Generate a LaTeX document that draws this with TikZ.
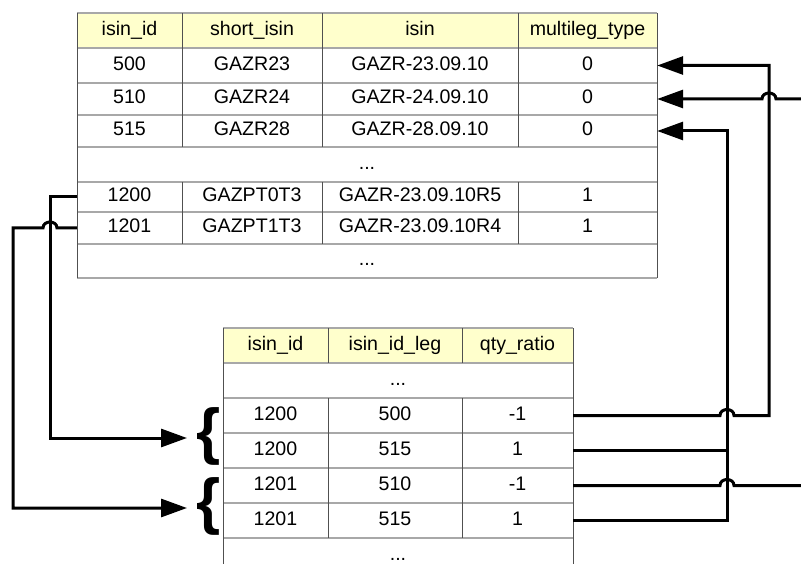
\documentclass[tikz,border=0pt]{standalone}
\usepackage{fontspec}
\setmainfont{Liberation Sans}
\usetikzlibrary{arrows.meta}

\definecolor{hdrfill}{HTML}{FFFFCC}
\definecolor{rowline}{HTML}{A8A8A8}
\definecolor{colline}{HTML}{505050}

\begin{document}
\begin{tikzpicture} [
        x = 1pt, y = -1pt,
        cell/.style = {inner sep=0pt, text height=13.5pt, text depth=4pt,
                      font=\fontsize{19.6}{22}\selectfont},
        hrule/.style = {draw=rowline, line width=2pt},
        vrule/.style = {draw=colline, line width=0.9pt},
        link/.style = {line width=3pt, -{Triangle[length=26pt, width=18pt]}},
        plain/.style = {line width=3pt},
        hopover/.style = {to path={.. controls +(0,-8) and +(0,-8) .. (\tikztotarget)}},
        brc/.style = {inner sep=0pt, font=\fontsize{62}{62}\selectfont\bfseries}
    ]
    \useasboundingbox (0,0) rectangle (801,564);

    % isin table
    \fill[hdrfill] (77,13) rectangle (657,48);
    \foreach \y in {13,48,83,115,147,182,212,244,278}
        \draw[hrule] (77,\y) -- (657,\y);
    \draw[vrule] (77,13) -- (77,278);
    \draw[vrule] (657,13) -- (657,278);
    \foreach \x in {182,322,518} {
        \draw[vrule] (\x,13) -- (\x,147);
        \draw[vrule] (\x,182) -- (\x,244);
    }
    \node[cell] (hId) at (129.5,30.5) {isin\_id};
    \node[cell] (hShort) at (252,30.5) {short\_isin};
    \node[cell] (hIsin) at (420,30.5) {isin};
    \node[cell] (hType) at (587.5,30.5) {multileg\_type};
    \foreach \id/\short/\isin/\mt/\y in {500/GAZR23/GAZR-23.09.10/0/65.5,
            510/GAZR24/GAZR-24.09.10/0/99, 515/GAZR28/GAZR-28.09.10/0/131,
            1200/GAZPT0T3/GAZR-23.09.10R5/1/197, 1201/GAZPT1T3/GAZR-23.09.10R4/1/228} {
        \node[cell, minimum width=105pt] (t\id a) at (129.5,\y) {\id};
        \node[cell, minimum width=140pt] (t\id b) at (252,\y) {\short};
        \node[cell, minimum width=196pt] (t\id c) at (420,\y) {\isin};
        \node[cell, minimum width=139pt] (t\id d) at (587.5,\y) {\mt};
    }
    \node[cell] (tDotsA) at (367,164.5) {...};
    \node[cell] (tDotsB) at (367,261) {...};

    % legs table
    \fill[hdrfill] (223,328) rectangle (573,363);
    \foreach \y in {328,363,398,433,468,503,538}
        \draw[hrule] (223,\y) -- (573,\y);
    \draw[vrule] (223,328) -- (223,564);
    \draw[vrule] (573,328) -- (573,564);
    \foreach \x in {328,462} {
        \draw[vrule] (\x,328) -- (\x,363);
        \draw[vrule] (\x,398) -- (\x,538);
    }
    \node[cell] (gId) at (275.5,345.5) {isin\_id};
    \node[cell] (gLeg) at (395,345.5) {isin\_id\_leg};
    \node[cell] (gQty) at (517.5,345.5) {qty\_ratio};
    \node[cell] (bDotsA) at (398,380.5) {...};
    \foreach \n/\id/\leg/\q/\y in {1/1200/500/-1/415.5, 2/1200/515/1/450.5,
            3/1201/510/-1/485.5, 4/1201/515/1/520.5} {
        \node[cell, minimum width=105pt] (b\n i) at (275.5,\y) {\id};
        \node[cell, minimum width=134pt] (b\n l) at (395,\y) {\leg};
        \node[cell, minimum width=111pt] (b\n q) at (517.5,\y) {\q};
    }
    \node[cell] (bDotsB) at (398,555.5) {...};

    % braces for the two groups of legs
    \node[brc] (br1) at (209,436) {\{};
    \node[brc] (br2) at (209,506) {\{};
    \coordinate (in1) at (187,438);
    \coordinate (in2) at (187,508);

    % rails of the connectors
    \coordinate (vA) at (727,0);
    \coordinate (vB) at (769,0);
    \coordinate (vC) at (50,0);
    \coordinate (vD) at (13,0);
    \coordinate (rim) at (801,0);

    % legs -> instruments
    \draw[link] (b1q.east) -- ([xshift=-7pt]vA |- b1q.east) to[hopover]
        ([xshift=7pt]vA |- b1q.east) -| (vB |- t500d.east) -- (t500d.east);
    \draw[link] (rim |- t510d.east) -- ([xshift=7pt]vB |- t510d.east) to[hopover]
        ([xshift=-7pt]vB |- t510d.east) -- (t510d.east);
    \draw[link] (b4q.east) -| (vA |- t515d.east) -- (t515d.east);
    \draw[plain] (b2q.east) -- (vA |- b2q.east);
    \draw[plain] (b3q.east) -- ([xshift=-7pt]vA |- b3q.east) to[hopover]
        ([xshift=7pt]vA |- b3q.east) -- (rim |- b3q.east);

    % multileg instruments -> their legs
    \draw[link] (t1200a.west) -| (vC |- in1) -- (in1);
    \draw[link] (t1201a.west) -- ([xshift=7pt]vC |- t1201a.west) to[hopover]
        ([xshift=-7pt]vC |- t1201a.west) -| (vD |- in2) -- (in2);

\end{tikzpicture}
\end{document}
